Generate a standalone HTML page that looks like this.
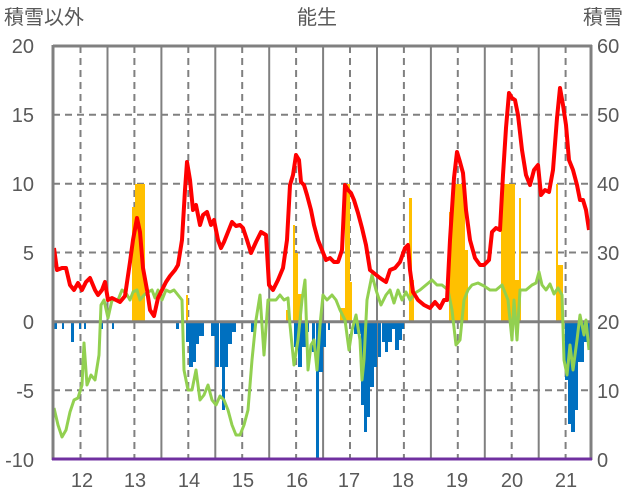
<!DOCTYPE html>
<html><head><meta charset="utf-8"><style>
body{margin:0;background:#fff;}
svg{display:block;font-family:"Liberation Sans","Noto Sans CJK JP",sans-serif;}
</style></head><body>
<svg width="636" height="501" viewBox="0 0 636 501" xmlns="http://www.w3.org/2000/svg">
<rect width="636" height="501" fill="#fff"/>
<g stroke="#808080" stroke-width="2" stroke-dasharray="7,5">
<line x1="53" y1="114.8" x2="591" y2="114.8"/>
<line x1="53" y1="183.7" x2="591" y2="183.7"/>
<line x1="53" y1="252.5" x2="591" y2="252.5"/>
<line x1="53" y1="390.2" x2="591" y2="390.2"/>
</g>
<g stroke="#808080" stroke-width="2" stroke-dasharray="7,5">
<line x1="80.5" y1="46" x2="80.5" y2="459"/><line x1="134.4" y1="46" x2="134.4" y2="459"/><line x1="188.3" y1="46" x2="188.3" y2="459"/><line x1="242.2" y1="46" x2="242.2" y2="459"/><line x1="296.1" y1="46" x2="296.1" y2="459"/><line x1="350" y1="46" x2="350" y2="459"/><line x1="403.9" y1="46" x2="403.9" y2="459"/><line x1="457.8" y1="46" x2="457.8" y2="459"/><line x1="511.7" y1="46" x2="511.7" y2="459"/><line x1="565.6" y1="46" x2="565.6" y2="459"/>
</g>
<g stroke="#808080" stroke-width="2">
<line x1="107.5" y1="46" x2="107.5" y2="459"/><line x1="161.4" y1="46" x2="161.4" y2="459"/><line x1="215.3" y1="46" x2="215.3" y2="459"/><line x1="269.2" y1="46" x2="269.2" y2="459"/><line x1="323.1" y1="46" x2="323.1" y2="459"/><line x1="377" y1="46" x2="377" y2="459"/><line x1="430.9" y1="46" x2="430.9" y2="459"/><line x1="484.8" y1="46" x2="484.8" y2="459"/><line x1="538.7" y1="46" x2="538.7" y2="459"/>
</g>
<g fill="#FFC000">
<rect x="132" y="207" width="3" height="115"/><rect x="135" y="184" width="10" height="138"/>
<rect x="186" y="295" width="2" height="27"/>
<rect x="286" y="310" width="3" height="12"/><rect x="293" y="225" width="2" height="97"/><rect x="295" y="253" width="3" height="69"/><rect x="298" y="294" width="4" height="28"/>
<rect x="340" y="308" width="5" height="14"/><rect x="345" y="184" width="5" height="138"/><rect x="350" y="282" width="2" height="40"/>
<rect x="409" y="198" width="3" height="124"/><rect x="412" y="280" width="2" height="42"/>
<rect x="449" y="212" width="3" height="110"/><rect x="452" y="184" width="13" height="138"/><rect x="465" y="250" width="3" height="72"/>
<rect x="501" y="184" width="14" height="138"/><rect x="515" y="280" width="5" height="42"/><rect x="519" y="198" width="2" height="124"/>
<rect x="556" y="184" width="2" height="138"/><rect x="558" y="265" width="5" height="57"/>
</g>
<g fill="#0070C0">
<rect x="54" y="322" width="3" height="7"/><rect x="62" y="322" width="2" height="7"/><rect x="71" y="322" width="3" height="20"/><rect x="79" y="322" width="2" height="7"/><rect x="84" y="322" width="2" height="7"/><rect x="101" y="322" width="2" height="7"/><rect x="112" y="322" width="2" height="7"/>
<rect x="176" y="322" width="3" height="7"/><rect x="186" y="322" width="3" height="20"/><rect x="189" y="322" width="4" height="45"/><rect x="193" y="322" width="3" height="40"/><rect x="196" y="322" width="3" height="22"/><rect x="199" y="322" width="5" height="14"/>
<rect x="211" y="322" width="7" height="14"/><rect x="215" y="322" width="4" height="45"/><rect x="220" y="322" width="3" height="45"/><rect x="222" y="322" width="3" height="88"/><rect x="225" y="322" width="3" height="45"/><rect x="228" y="322" width="4" height="22"/><rect x="232" y="322" width="4" height="10"/>
<rect x="251" y="322" width="3" height="10"/>
<rect x="294" y="322" width="12" height="25"/><rect x="298" y="322" width="4" height="45"/><rect x="306" y="322" width="3" height="10"/>
<rect x="312" y="322" width="3" height="30"/><rect x="316" y="322" width="3" height="136"/><rect x="319" y="322" width="4" height="50"/><rect x="323" y="322" width="3" height="25"/><rect x="328" y="322" width="2" height="8"/>
<rect x="354" y="322" width="3" height="12"/><rect x="357" y="322" width="5" height="12"/><rect x="361" y="322" width="3" height="83"/><rect x="364" y="322" width="3" height="110"/><rect x="367" y="322" width="3" height="95"/><rect x="370" y="322" width="4" height="65"/><rect x="374" y="322" width="3" height="45"/><rect x="378" y="322" width="3" height="35"/><rect x="382" y="322" width="3" height="20"/><rect x="385" y="322" width="3" height="30"/><rect x="388" y="322" width="4" height="20"/>
<rect x="391" y="322" width="4" height="7"/><rect x="395" y="322" width="4" height="28"/><rect x="399" y="322" width="3" height="18"/><rect x="402" y="322" width="2" height="7"/>
<rect x="565" y="322" width="5" height="58"/><rect x="568" y="322" width="3" height="102"/><rect x="571" y="322" width="4" height="110"/><rect x="575" y="322" width="3" height="88"/><rect x="578" y="322" width="3" height="40"/><rect x="581" y="322" width="3" height="40"/><rect x="584" y="322" width="6" height="20"/>
</g>
<line x1="53" y1="321.7" x2="591" y2="321.7" stroke="#808080" stroke-width="3"/>
<polyline fill="none" stroke="#92D050" stroke-width="3" stroke-linejoin="round" points="54,408 58,425 62,437 66,430 70,412 74,400 78,398 82,385 84,343 87,385 91,375 95,380 99,355 101,305 104,300 108,318 112,300 118,300 122,290 126,293 130,300 133,292 137,290 140,300 144,295 148,292 152,290 155,298 158,290 162,300 166,290 170,292 174,290 178,295 182,300 184,370 188,390 192,390 196,370 200,400 204,395 208,385 212,400 216,405 220,396 224,400 228,410 232,425 236,435 240,435 244,425 248,410 252,360 256,320 260,295 264,355 268,300 272,300 276,300 280,295 284,300 288,298 290,325 294,365 298,340 302,300 305,280 308,370 311,345 314,340 317,370 320,325 323,295 327,300 332,295 336,300 340,310 345,320 349,350 352,330 356,315 360,340 362,380 364,360 367,300 372,275 376,290 381,305 386,295 390,290 394,303 398,290 402,300 406,292 410,300 415,293 420,290 426,285 432,280 437,285 442,285 448,290 452,310 456,345 460,340 464,300 468,290 472,285 478,283 484,286 490,290 496,290 502,285 508,300 512,340 514,300 517,340 520,290 526,290 532,285 536,283 539,272 542,285 546,290 550,284 554,294 558,288 562,295 564,360 567,375 570,345 573,370 577,340 580,315 584,335 586,320 589,350"/>
<polyline fill="none" stroke="#FF0000" stroke-width="4" stroke-linejoin="round" points="54,248 57,270 62,268 66,268 70,285 74,290 78,283 82,290 86,282 90,278 95,290 98,295 102,290 105,282 108,300 112,298 116,300 120,302 125,296 130,262 133,240 137,218 140,232 143,268 147,290 150,310 154,316 158,298 162,290 166,282 170,276 175,270 178,265 182,240 185,190 187,162 190,180 193,210 196,205 200,225 203,215 207,212 211,225 214,220 218,240 221,248 224,242 228,232 232,222 236,226 240,225 243,228 247,240 251,253 256,242 261,232 266,235 269,285 273,290 278,280 283,268 287,240 290,185 293,175 296,155 299,160 301,182 304,185 307,195 311,210 314,225 318,240 322,250 326,260 330,258 334,262 338,262 342,250 345,185 348,190 351,193 354,200 358,213 362,228 366,245 370,270 375,274 380,278 386,282 390,270 395,268 400,262 405,248 408,245 410,270 413,292 418,300 424,305 430,308 435,302 440,308 444,300 447,300 450,240 454,178 457,152 460,162 463,173 466,210 470,240 475,258 480,265 484,265 489,260 492,232 496,228 500,230 503,175 506,128 509,93 512,98 515,100 518,115 522,150 526,175 530,185 534,170 538,165 541,195 545,190 549,192 553,170 557,118 560,88 563,105 566,125 569,160 573,170 577,185 580,200 583,200 586,210 589,230"/>
<line x1="53" y1="46" x2="592" y2="46" stroke="#808080" stroke-width="3"/>
<line x1="53" y1="45" x2="53" y2="460" stroke="#808080" stroke-width="3"/>
<line x1="591" y1="45" x2="591" y2="460" stroke="#808080" stroke-width="3"/>
<line x1="52" y1="459" x2="592" y2="459" stroke="#7030A0" stroke-width="3"/>
<g fill="#595959" font-size="20">
<text x="4" y="24">積雪以外</text>
<text x="297" y="24">能生</text>
<text x="583" y="24">積雪</text>
<g text-anchor="end">
<text x="34" y="53">20</text><text x="34" y="122">15</text><text x="34" y="191">10</text><text x="34" y="260">5</text><text x="34" y="329">0</text><text x="34" y="398">-5</text><text x="34" y="467">-10</text>
</g>
<text x="597" y="53">60</text><text x="597" y="191">40</text><text x="597" y="329">20</text><text x="597" y="398">10</text><text x="597" y="467">0</text><text x="597" y="260">30</text><text x="597" y="122">50</text>
<g text-anchor="middle">
<text x="82" y="487">12</text><text x="135" y="487">13</text><text x="189" y="487">14</text><text x="243" y="487">15</text><text x="297" y="487">16</text><text x="349" y="487">17</text><text x="403" y="487">18</text><text x="457" y="487">19</text><text x="512" y="487">20</text><text x="566" y="487">21</text>
</g>
</g>
</svg>
</body></html>
